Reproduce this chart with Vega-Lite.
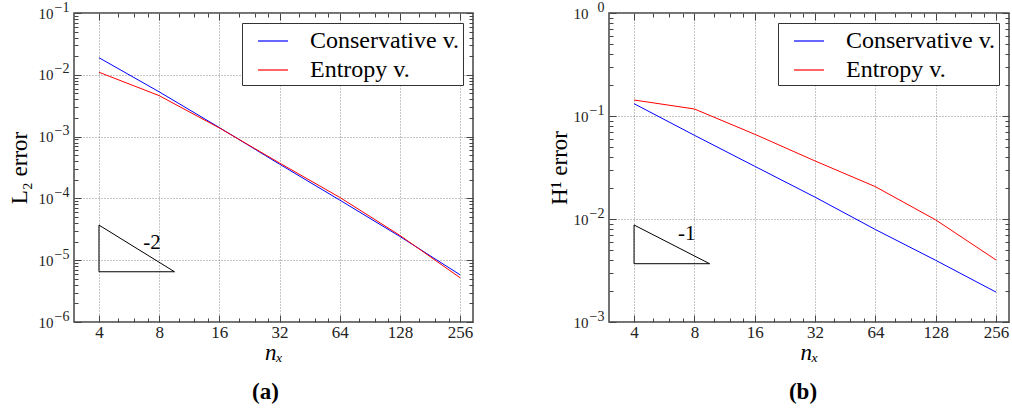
{
  "$schema": "https://vega.github.io/schema/vega-lite/v6.json",
  "background": "white",
  "padding": {"left": 7, "top": -1, "right": 0, "bottom": 0},
  "autosize": {"type": "pad"},
  "bounds": "flush",
  "spacing": 136,
  "datasets": {
    "l2": [
      {"n": 4, "error": 0.0189, "method": "Conservative v."},
      {"n": 8, "error": 0.0053, "method": "Conservative v."},
      {"n": 16, "error": 0.00140, "method": "Conservative v."},
      {"n": 32, "error": 0.000358, "method": "Conservative v."},
      {"n": 64, "error": 0.000094, "method": "Conservative v."},
      {"n": 128, "error": 0.0000242, "method": "Conservative v."},
      {"n": 256, "error": 0.0000058, "method": "Conservative v."},
      {"n": 4, "error": 0.0110, "method": "Entropy v."},
      {"n": 8, "error": 0.0046, "method": "Entropy v."},
      {"n": 16, "error": 0.00138, "method": "Entropy v."},
      {"n": 32, "error": 0.000374, "method": "Entropy v."},
      {"n": 64, "error": 0.000104, "method": "Entropy v."},
      {"n": 128, "error": 0.0000252, "method": "Entropy v."},
      {"n": 256, "error": 0.0000052, "method": "Entropy v."}
    ],
    "h1": [
      {"n": 4, "error": 0.1317, "method": "Conservative v."},
      {"n": 8, "error": 0.065, "method": "Conservative v."},
      {"n": 16, "error": 0.0325, "method": "Conservative v."},
      {"n": 32, "error": 0.0163, "method": "Conservative v."},
      {"n": 64, "error": 0.0079, "method": "Conservative v."},
      {"n": 128, "error": 0.00397, "method": "Conservative v."},
      {"n": 256, "error": 0.00195, "method": "Conservative v."},
      {"n": 4, "error": 0.143, "method": "Entropy v."},
      {"n": 8, "error": 0.117, "method": "Entropy v."},
      {"n": 16, "error": 0.0665, "method": "Entropy v."},
      {"n": 32, "error": 0.0366, "method": "Entropy v."},
      {"n": 64, "error": 0.0206, "method": "Entropy v."},
      {"n": 128, "error": 0.0098, "method": "Entropy v."},
      {"n": 256, "error": 0.0040, "method": "Entropy v."}
    ],
    "tri2": [
      {"n": 4, "error": 0.000037, "o": 1},
      {"n": 9.55, "error": 0.0000065, "o": 2},
      {"n": 4, "error": 0.0000065, "o": 3},
      {"n": 4, "error": 0.000037, "o": 4}
    ],
    "tri1": [
      {"n": 4, "error": 0.00875, "o": 1},
      {"n": 9.53, "error": 0.00368, "o": 2},
      {"n": 4, "error": 0.00368, "o": 3},
      {"n": 4, "error": 0.00875, "o": 4}
    ],
    "lab2": [{"n": 7.37, "error": 0.0000192, "label": "-2"}],
    "lab1": [{"n": 7.33, "error": 0.00715, "label": "-1"}]
  },
  "resolve": {"scale": {"stroke": "independent"}, "legend": {"stroke": "independent"}},
  "hconcat": [
    {
      "width": 399,
      "height": 309,
      "title": {"text": "(a)", "orient": "bottom", "frame": "group", "dx": -8, "offset": 17, "font": "Liberation Serif", "fontSize": 23, "fontWeight": "bold", "color": "black"},
      "layer": [
        {
          "data": {"name": "l2"},
          "mark": {"type": "line", "strokeWidth": 1, "clip": true},
          "encoding": {
            "x": {
              "field": "n", "type": "quantitative",
              "scale": {"type": "log", "base": 2, "domain": [3, 297], "nice": false},
              "axis": {
                "orient": "bottom",
                "values": [4,5,6,7,8,10,12,14,16,20,24,28,32,40,48,56,64,80,96,112,128,160,192,224,256],
                "labelExpr": "indexof([4,8,16,32,64,128,256], datum.value) >= 0 ? '' + datum.value : ''",
                "grid": true,
                "gridOpacity": {"condition": {"test": "indexof([4,8,16,32,64,128,256], datum.value) >= 0", "value": 1}, "value": 0},
                "tickSize": {"condition": {"test": "indexof([4,8,16,32,64,128,256], datum.value) >= 0", "value": -7}, "value": -4},
                "labelFontSize": 17,
                "labelPadding": 9,
                "title": "nₓ",
                "titleFontStyle": "italic",
                "titlePadding": -2
              }
            },
            "y": {
              "field": "error", "type": "quantitative",
              "scale": {"type": "log", "domain": [0.000001, 0.1], "nice": false},
              "axis": {
                "orient": "left",
                "values": [0.000001,0.000002,0.000003,0.000004,0.000005,0.000006,0.000007,0.000008,0.000009,0.00001,0.00002,0.00003,0.00004,0.00005,0.00006,0.00007,0.00008,0.00009,0.0001,0.0002,0.0003,0.0004,0.0005,0.0006,0.0007,0.0008,0.0009,0.001,0.002,0.003,0.004,0.005,0.006,0.007,0.008,0.009,0.01,0.02,0.03,0.04,0.05,0.06,0.07,0.08,0.09,0.1],
                "labelExpr": "abs(log(datum.value)/LN10 - round(log(datum.value)/LN10)) < 0.000001 ? '10' : ''",
                "grid": true,
                "gridOpacity": {"condition": {"test": "abs(log(datum.value)/LN10 - round(log(datum.value)/LN10)) < 0.000001", "value": 1}, "value": 0},
                "tickSize": {"condition": {"test": "abs(log(datum.value)/LN10 - round(log(datum.value)/LN10)) < 0.000001", "value": -7}, "value": -4},
                "labelFontSize": 15,
                "labelPadding": 28,
                "title": "L₂ error",
                "titleX": -55,
                "titleY": 154.5,
                "titleBaseline": "middle",
                "titleAlign": "center",
                "titleAngle": -90
              }
            },
            "stroke": {
              "field": "method", "type": "nominal",
              "scale": {"domain": ["Conservative v.", "Entropy v."], "range": ["#0000ff", "#ff0000"]},
              "legend": {
                "orient": "top-right", "offset": 10,
                "encode": {"symbols": {"update": {
                  "fill": {"signal": "datum.value === 'Entropy v.' ? '#ff0000' : '#0000ff'"},
                  "stroke": {"value": "transparent"},
                  "strokeWidth": {"value": 0}
                }}}
              }
            }
          }
        },
        {
          "data": {"name": "tri2"},
          "mark": {"type": "line", "strokeWidth": 1, "stroke": "black"},
          "encoding": {
            "x": {
              "field": "n", "type": "quantitative",
              "axis": {
                "orient": "top",
                "values": [4,5,6,7,8,10,12,14,16,20,24,28,32,40,48,56,64,80,96,112,128,160,192,224,256],
                "labels": false, "grid": false, "title": null,
                "tickSize": {"condition": {"test": "indexof([4,8,16,32,64,128,256], datum.value) >= 0", "value": -7}, "value": -4}
              }
            },
            "y": {
              "field": "error", "type": "quantitative",
              "axis": {
                "orient": "right",
                "values": [0.000001,0.000002,0.000003,0.000004,0.000005,0.000006,0.000007,0.000008,0.000009,0.00001,0.00002,0.00003,0.00004,0.00005,0.00006,0.00007,0.00008,0.00009,0.0001,0.0002,0.0003,0.0004,0.0005,0.0006,0.0007,0.0008,0.0009,0.001,0.002,0.003,0.004,0.005,0.006,0.007,0.008,0.009,0.01,0.02,0.03,0.04,0.05,0.06,0.07,0.08,0.09,0.1],
                "labels": false, "grid": false, "title": null,
                "tickSize": {"condition": {"test": "abs(log(datum.value)/LN10 - round(log(datum.value)/LN10)) < 0.000001", "value": -7}, "value": -4}
              }
            },
            "order": {"field": "o", "type": "quantitative"}
          }
        },
        {
          "data": {"name": "lab2"},
          "mark": {"type": "text", "font": "Liberation Serif", "fontSize": 21, "align": "center", "baseline": "middle", "fill": "black"},
          "encoding": {
            "x": {"field": "n", "type": "quantitative", "axis": null},
            "y": {
              "field": "error", "type": "quantitative",
              "axis": {
                "orient": "left",
                "values": [0.000001,0.00001,0.0001,0.001,0.01,0.1],
                "labelExpr": "['−6','−5','−4','−3','−2','−1','0'][round(log(datum.value)/LN10) + 6]",
                "grid": false, "ticks": false, "title": null,
                "labelFontSize": 14,
                "labelPadding": 5,
                "labelOffset": -6
              }
            },
            "text": {"field": "label", "type": "nominal"}
          }
        }
      ],
      "resolve": {"axis": {"x": "independent", "y": "independent"}}
    },
    {
      "width": 400,
      "height": 309,
      "title": {"text": "(b)", "orient": "bottom", "frame": "group", "dx": -6, "offset": 17, "font": "Liberation Serif", "fontSize": 23, "fontWeight": "bold", "color": "black"},
      "layer": [
        {
          "data": {"name": "h1"},
          "mark": {"type": "line", "strokeWidth": 1, "clip": true},
          "encoding": {
            "x": {
              "field": "n", "type": "quantitative",
              "scale": {"type": "log", "base": 2, "domain": [3, 297], "nice": false},
              "axis": {
                "orient": "bottom",
                "values": [4,5,6,7,8,10,12,14,16,20,24,28,32,40,48,56,64,80,96,112,128,160,192,224,256],
                "labelExpr": "indexof([4,8,16,32,64,128,256], datum.value) >= 0 ? '' + datum.value : ''",
                "grid": true,
                "gridOpacity": {"condition": {"test": "indexof([4,8,16,32,64,128,256], datum.value) >= 0", "value": 1}, "value": 0},
                "tickSize": {"condition": {"test": "indexof([4,8,16,32,64,128,256], datum.value) >= 0", "value": -7}, "value": -4},
                "labelFontSize": 17,
                "labelPadding": 9,
                "title": "nₓ",
                "titleFontStyle": "italic",
                "titlePadding": -2
              }
            },
            "y": {
              "field": "error", "type": "quantitative",
              "scale": {"type": "log", "domain": [0.001, 1], "nice": false},
              "axis": {
                "orient": "left",
                "values": [0.001,0.002,0.003,0.004,0.005,0.006,0.007,0.008,0.009,0.01,0.02,0.03,0.04,0.05,0.06,0.07,0.08,0.09,0.1,0.2,0.3,0.4,0.5,0.6,0.7,0.8,0.9,1],
                "labelExpr": "abs(log(datum.value)/LN10 - round(log(datum.value)/LN10)) < 0.000001 ? '10' : ''",
                "grid": true,
                "gridOpacity": {"condition": {"test": "abs(log(datum.value)/LN10 - round(log(datum.value)/LN10)) < 0.000001", "value": 1}, "value": 0},
                "tickSize": {"condition": {"test": "abs(log(datum.value)/LN10 - round(log(datum.value)/LN10)) < 0.000001", "value": -7}, "value": -4},
                "labelFontSize": 15,
                "labelPadding": 28,
                "title": "H¹ error",
                "titleX": -50,
                "titleY": 154.5,
                "titleBaseline": "middle",
                "titleAlign": "center",
                "titleAngle": -90
              }
            },
            "stroke": {
              "field": "method", "type": "nominal",
              "scale": {"domain": ["Conservative v.", "Entropy v."], "range": ["#0000ff", "#ff0000"]},
              "legend": {
                "orient": "top-right", "offset": 10,
                "encode": {"symbols": {"update": {
                  "fill": {"signal": "datum.value === 'Entropy v.' ? '#ff0000' : '#0000ff'"},
                  "stroke": {"value": "transparent"},
                  "strokeWidth": {"value": 0}
                }}}
              }
            }
          }
        },
        {
          "data": {"name": "tri1"},
          "mark": {"type": "line", "strokeWidth": 1, "stroke": "black"},
          "encoding": {
            "x": {
              "field": "n", "type": "quantitative",
              "axis": {
                "orient": "top",
                "values": [4,5,6,7,8,10,12,14,16,20,24,28,32,40,48,56,64,80,96,112,128,160,192,224,256],
                "labels": false, "grid": false, "title": null,
                "tickSize": {"condition": {"test": "indexof([4,8,16,32,64,128,256], datum.value) >= 0", "value": -7}, "value": -4}
              }
            },
            "y": {
              "field": "error", "type": "quantitative",
              "axis": {
                "orient": "right",
                "values": [0.001,0.002,0.003,0.004,0.005,0.006,0.007,0.008,0.009,0.01,0.02,0.03,0.04,0.05,0.06,0.07,0.08,0.09,0.1,0.2,0.3,0.4,0.5,0.6,0.7,0.8,0.9,1],
                "labels": false, "grid": false, "title": null,
                "tickSize": {"condition": {"test": "abs(log(datum.value)/LN10 - round(log(datum.value)/LN10)) < 0.000001", "value": -7}, "value": -4}
              }
            },
            "order": {"field": "o", "type": "quantitative"}
          }
        },
        {
          "data": {"name": "lab1"},
          "mark": {"type": "text", "font": "Liberation Serif", "fontSize": 21, "align": "center", "baseline": "middle", "fill": "black"},
          "encoding": {
            "x": {"field": "n", "type": "quantitative", "axis": null},
            "y": {
              "field": "error", "type": "quantitative",
              "axis": {
                "orient": "left",
                "values": [0.001,0.01,0.1,1],
                "labelExpr": "['−3','−2','−1','0'][round(log(datum.value)/LN10) + 3]",
                "grid": false, "ticks": false, "title": null,
                "labelFontSize": 14,
                "labelPadding": 5,
                "labelOffset": -6
              }
            },
            "text": {"field": "label", "type": "nominal"}
          }
        }
      ],
      "resolve": {"axis": {"x": "independent", "y": "independent"}}
    }
  ],
  "config": {
    "view": {"stroke": "#444", "strokeWidth": 1.5},
    "axis": {
      "domain": false,
      "tickColor": "#444",
      "tickWidth": 1,
      "gridColor": "#888",
      "gridDash": [1, 2],
      "gridWidth": 1,
      "labelFont": "Liberation Serif",
      "labelColor": "#222",
      "labelOverlap": false,
      "labelFlush": false,
      "titleFont": "Liberation Serif",
      "titleFontSize": 23,
      "titleFontWeight": "normal",
      "titleColor": "black"
    },
    "legend": {
      "title": null,
      "symbolType": "M-1,-0.04H1V0.04H-1Z",
      "symbolSize": 900,
      "symbolStrokeWidth": 0,
      "labelFont": "Liberation Serif",
      "labelFontSize": 24,
      "labelColor": "black",
      "labelLimit": 400,
      "strokeColor": "#333",
      "fillColor": "white",
      "padding": 3,
      "rowPadding": 2,
      "labelOffset": 22,
      "symbolOffset": 13,
      "cornerRadius": 0
    }
  }
}
